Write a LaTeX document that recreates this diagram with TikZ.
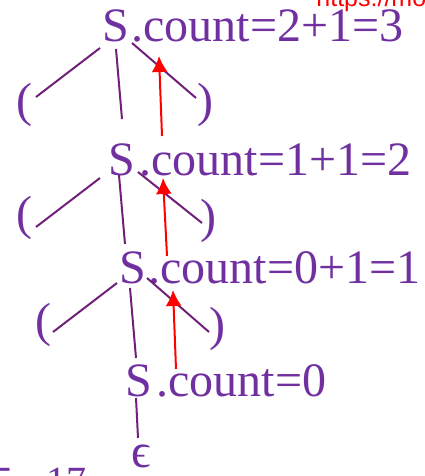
\documentclass[tikz,border=0pt]{standalone}
\usepackage{fontspec}
\setmainfont{Liberation Serif}
\newfontfamily\urlfont{Liberation Sans}
\usetikzlibrary{arrows.meta,calc}
\definecolor{txtpurple}{RGB}{112,48,160}
\definecolor{linepurple}{RGB}{112,32,120}

\begin{document}
\begin{tikzpicture}[x=0.5pt,y=-0.5pt,>=Latex,
  every node/.style={inner sep=0pt,anchor=base west,text=txtpurple,
    font=\fontsize{24}{28}\selectfont},
  edge/.style={draw=linepurple,line width=1pt},
  up/.style={draw=red,line width=1pt,-{Latex[length=8pt,width=8pt]}}]
  \useasboundingbox (0,0) rectangle (424,476);
  \clip (0,0) rectangle (424,476);

  % parse tree
  \node (s1) at (102,42) {S};
  \node (c1) at (131,42) {.count=2+1=3};
  \node (lp1) at (16,117) {(};
  \node (rp1) at (197,117) {)};
  \node (s2) at (108,175) {S};
  \node (c2) at (139,175) {.count=1+1=2};
  \node (lp2) at (16,229) {(};
  \node (rp2) at (200,232) {)};
  \node (s3) at (119,283) {S};
  \node (c3) at (148,283) {.count=0+1=1};
  \node (lp3) at (35,336) {(};
  \node (rp3) at (209,340) {)};
  \node (s4) at (125,396) {S};
  \node (c4) at (156,396) {.count=0};
  \node (eps) at (131,467) {ϵ};

  \draw[edge] ($(s1.base west)+(-2,6)$) -- ($(lp1.base west)+(20,-20)$);
  \draw[edge] ($(s1.base west)+(14,7)$) -- ($(s2.base west)+(14,-56)$);
  \draw[edge] ($(s1.base west)+(30,1)$) -- ($(rp1.base west)+(-1,-19)$);

  \draw[edge] ($(s2.base west)+(-8,3)$) -- ($(lp2.base west)+(20,-2)$);
  \draw[edge] ($(s2.base west)+(11,0)$) -- ($(s3.base west)+(6,-39)$);
  \draw[edge] ($(s2.base west)+(30,-3)$) -- ($(rp2.base west)+(2,-9)$);

  \draw[edge] ($(s3.base west)+(-2,0)$) -- ($(lp3.base west)+(18,-4)$);
  \draw[edge] ($(s3.base west)+(11,5)$) -- ($(s4.base west)+(11,-38)$);
  \draw[edge] ($(s3.base west)+(28,-5)$) -- ($(rp3.base west)+(0,-8)$);

  \draw[edge] ($(s4.base west)+(11,2)$) -- ($(eps.base west)+(7,-29)$);

  % count goes up
  \draw[up] ($(c2.base west)+(23,-39)$) -- ($(c1.base west)+(28,14)$);
  \draw[up] ($(c3.base west)+(19,-27)$) -- ($(c2.base west)+(24,3)$);
  \draw[up] ($(c4.base west)+(20,-27)$) -- ($(c3.base west)+(25,7)$);

  % cut-off slide texts
  \node[text=red,font=\urlfont\fontsize{12.5}{15}\selectfont] (url) at (316,7) {https://mo};
  \node[font=\fontsize{20}{24}\selectfont] (pgno) at (-7,494) {5 - 17};
\end{tikzpicture}
\end{document}
